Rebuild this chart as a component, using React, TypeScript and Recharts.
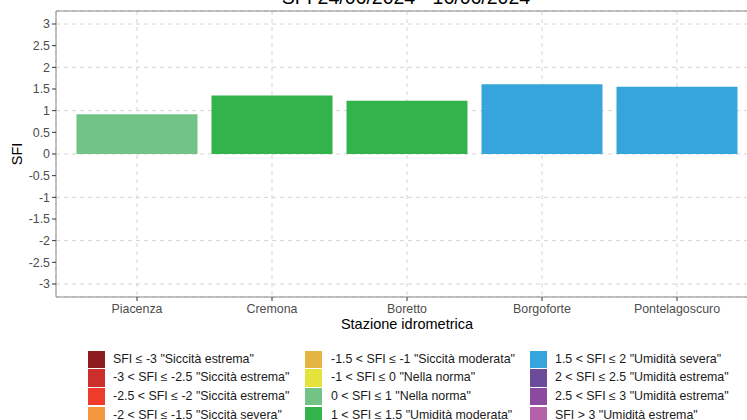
import React from 'react';
import { BarChart, Bar, XAxis, YAxis, CartesianGrid, Cell, ReferenceLine, Label } from 'recharts';

const stations = ['Piacenza', 'Cremona', 'Boretto', 'Borgoforte', 'Pontelagoscuro'];
const sfiValues = [0.92, 1.35, 1.23, 1.61, 1.55];
const yTicks = [-3, -2.5, -2, -1.5, -1, -0.5, 0, 0.5, 1, 1.5, 2, 2.5, 3];
const classUpperBounds = [-3, -2.5, -2, -1.5, -1, 0, 1, 1.5, 2, 2.5, 3, Infinity];
const classColors = [
  '#8E1B1F', '#CC2E2B', '#EE3B2B', '#F5973F', '#E6B443', '#E3E33B',
  '#72C386', '#32B34B', '#36A5DC', '#6B4C9A', '#8A4A9F', '#B561A9',
];
const classLabels = [
  'SFI ≤ -3 "Siccità estrema"',
  '-3 < SFI ≤ -2.5 "Siccità estrema"',
  '-2.5 < SFI ≤ -2 "Siccità estrema"',
  '-2 < SFI ≤ -1.5 "Siccità severa"',
  '-1.5 < SFI ≤ -1 "Siccità moderata"',
  '-1 < SFI ≤ 0 "Nella norma"',
  '0 < SFI ≤ 1 "Nella norma"',
  '1 < SFI ≤ 1.5 "Umidità moderata"',
  '1.5 < SFI ≤ 2 "Umidità severa"',
  '2 < SFI ≤ 2.5 "Umidità estrema"',
  '2.5 < SFI ≤ 3 "Umidità estrema"',
  'SFI > 3 "Umidità estrema"',
];
const titleText = 'SFI 24/06/2024 - 16/06/2024';
const xTitle = 'Stazione idrometrica';
const yTitle = 'SFI';

const data = stations.map((s, i) => ({ station: s, sfi: sfiValues[i] }));
const colorFor = (v: number) => classColors[classUpperBounds.findIndex((b) => v <= b)];

const FONT = '"Liberation Sans", Arial, sans-serif';

const legendColX = [88, 305, 530];
const legendTextX = [113, 331, 555];

export default function App() {
  return (
    <div style={{ position: 'absolute', left: 0, top: 0, width: 747, height: 420, overflow: 'hidden', background: '#fff', fontFamily: FONT }}>
      <svg width={747} height={20} style={{ position: 'absolute', left: 0, top: 0 }}>
        <text x={406} y={3.5} textAnchor="middle" fontSize={19.5} fill="#000" fontFamily={FONT}>{titleText}</text>
      </svg>
      <div style={{ position: 'absolute', left: 0, top: 0 }}>
        <BarChart width={760} height={420} data={data} margin={{ top: 11, right: 2, bottom: 90, left: 0 }}>
          <CartesianGrid stroke="#D4D4D4" strokeDasharray="4 4" />
          <XAxis
            dataKey="station"
            height={33}
            padding={{ left: 13.5, right: 13.5 }}
            tickSize={4}
            tickMargin={3}
            stroke="#888"
            tickLine={{ stroke: '#333' }}
            tick={{ fill: '#4D4D4D', fontSize: 12.4, fontFamily: FONT }}
            interval={0}
          >
            <Label value={xTitle} position="insideBottom" offset={1} style={{ fontSize: 14.5, fill: '#000', fontFamily: FONT }} />
          </XAxis>
          <YAxis
            width={56}
            domain={[-3.3, 3.3]}
            ticks={yTicks}
            type="number"
            allowDataOverflow
            tickSize={4}
            tickMargin={2}
            stroke="#888"
            tickLine={{ stroke: '#333' }}
            tick={{ fill: '#4D4D4D', fontSize: 12.4, fontFamily: FONT }}
            tickFormatter={(v: number) => String(v)}
          >
            <Label
              content={(props: any) => {
                const vb = props.viewBox || { x: 0, y: 11, height: 286 };
                const cx = 22;
                const cy = vb.y + vb.height / 2;
                return (
                  <text x={cx} y={cy} textAnchor="middle" fontSize={14.5} fill="#000" fontFamily={FONT} transform={`rotate(-90, ${cx}, ${cy})`}>
                    {yTitle}
                  </text>
                );
              }}
            />
          </YAxis>
          <ReferenceLine y={3.3} stroke="#888" ifOverflow="extendDomain" />
          <Bar dataKey="sfi" barSize={121} isAnimationActive={false}>
            {data.map((d, i) => (
              <Cell key={i} fill={colorFor(d.sfi)} />
            ))}
          </Bar>
        </BarChart>
      </div>
      {classLabels.map((lab, i) => {
        const col = Math.floor(i / 4);
        const row = i % 4;
        const top = 350.7 + row * 18.7;
        return (
          <React.Fragment key={i}>
            <div style={{ position: 'absolute', left: legendColX[col], top, width: 17, height: 17.3, background: classColors[i] }} />
            <div style={{ position: 'absolute', left: legendTextX[col], top: top, height: 17.3, lineHeight: '17.3px', fontSize: 12.4, color: '#1a1a1a', whiteSpace: 'nowrap', fontFamily: FONT }}>
              {lab}
            </div>
          </React.Fragment>
        );
      })}
    </div>
  );
}
